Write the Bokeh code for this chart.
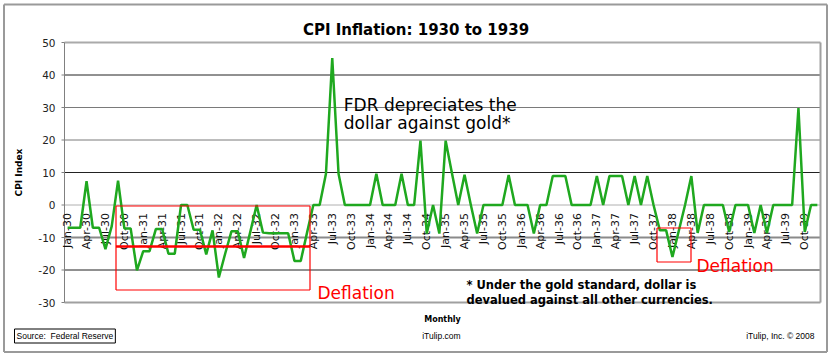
from math import pi
from bokeh.plotting import figure
from bokeh.models import Label
from bokeh.core.properties import value
from bokeh.embed import file_html
from bokeh.resources import INLINE

# ---------------- data ----------------
month_names = ["Jan", "Feb", "Mar", "Apr", "May", "Jun",
               "Jul", "Aug", "Sep", "Oct", "Nov", "Dec"]
years = list(range(1930, 1940))
months = [f"{m}-{y % 100:02d}" for y in years for m in month_names]

cpi = [
    -7, -7, -7, 7.3, -7, -7, -13.6, -6.5, 7.5, -7.2, -7.2, -20.1,          # 1930
    -14.2, -14.2, -7.4, -7.4, -15, -15, 0, 0, -7.6, -7.6, -15.2, -7.8,     # 1931
    -22.3, -15, -8.1, -8.1, -16.3, -8.2, 0, -8.5, -8.7, -8.7, -8.7, -8.7,  # 1932
    -17.2, -17.2, -8.5, 0, 0, 9.6, 45.2, 9.6, 0, 0, 0, 0,                  # 1933
    0, 9.6, 0, 0, 0, 9.6, 0, 0, 19.8, -8.8, 0, -8.8,                       # 1934
    19.8, 9.8, 0, 9.3, 0, -8.8, 0, 0, 0, 0, 9.2, 0,                        # 1935
    0, 0, -8.8, 0, 0, 8.9, 8.9, 8.9, 0, 0, 0, 0,                           # 1936
    8.9, 0, 8.9, 8.9, 8.9, 0, 8.9, 0, 8.9, 0, -7.8, -7.8,                  # 1937
    -16, -8, 0, 8.9, -8.6, 0, 0, 0, 0, -8.3, 0, 0,                         # 1938
    0, -8.6, 0, -8.6, 0, 0, 0, 0, 29.8, -8.3, 0, 0,                        # 1939
]
month_idx = list(range(len(cpi)))
tick_idx = month_idx[::3]
tick_labels = months[::3]
y_ticks = [-30, -20, -10, 0, 10, 20, 30, 40, 50]
y_tick_labels = [str(v) for v in y_ticks]

# ---------------- layout (pixels) ----------------
W, H = 831, 356
FL, FR, FT, FB = 64, 820, 42, 302          # plot-area edges in pixels
X_LO, X_HI = -0.5, len(cpi) - 0.5
Y_LO, Y_HI = -30, 50
SX = (FR - FL) / (X_HI - X_LO)
SY = (FB - FT) / (Y_HI - Y_LO)
XR = (X_LO - FL / SX, X_HI + (W - FR) / SX)
YR = (Y_LO - (H - FB) / SY, Y_HI + FT / SY)


def X(px):
    return XR[0] + px / SX


def Y(py):
    return YR[1] - py / SY


p = figure(width=W, height=H, x_range=XR, y_range=YR,
           x_axis_type=None, y_axis_type=None,
           output_backend="svg", toolbar_location=None,
           min_border=0)
p.background_fill_color = "white"
p.border_fill_color = "white"
p.outline_line_color = None

# horizontal gridlines
grid_styles = {40: ("#222222", 1), 30: ("#7a7a7a", 1), 20: ("#7a7a7a", 1),
               10: ("#222222", 1), 0: ("#b0b0b0", 1), -10: ("#8a8a8a", 2),
               -20: ("#222222", 1)}
for loc, (col, w) in grid_styles.items():
    p.segment(x0=[X_LO], y0=[loc], x1=[X_HI], y1=[loc], line_color=col, line_width=w)

# plot-area border
p.segment(x0=[X_LO], y0=[Y_HI], x1=[X_HI], y1=[Y_HI], line_color="#aaaaaa", line_width=2)
p.segment(x0=[X_LO], y0=[Y_LO], x1=[X_HI], y1=[Y_LO], line_color="#a0a0a0", line_width=2)
p.segment(x0=[X_HI], y0=[Y_LO], x1=[X_HI], y1=[Y_HI], line_color="#a0a0a0", line_width=2)
p.segment(x0=[X_LO], y0=[Y_LO], x1=[X_LO], y1=[Y_HI], line_color="#808080", line_width=1)

# y axis ticks and labels
p.segment(x0=[X_LO - 3 / SX] * len(y_ticks), y0=y_ticks,
          x1=[X_LO] * len(y_ticks), y1=y_ticks, line_color="#808080", line_width=1)
p.text(x=[X_LO] * len(y_ticks), y=y_ticks, text=y_tick_labels, x_offset=-9,
       text_align="right", text_baseline="middle",
       text_font=value("DejaVu Sans"), text_font_size=value("10.5px"),
       text_color="#222222")

# category labels inside the plot, hanging below zero
p.text(x=tick_idx, y=[0] * len(tick_idx), text=tick_labels, angle=pi / 2,
       text_align="right", text_baseline="middle", y_offset=8,
       text_font=value("DejaVu Sans"), text_font_size=value("11px"),
       text_color="#111111")

# the series
p.line(month_idx, cpi, line_color="#1fa81f", line_width=2.5)


# deflation boxes (annotation shapes), drawn edge by edge
def red_box(l, r, t, b):
    p.segment(x0=[X(l), X(l), X(l), X(r)], y0=[Y(t), Y(b), Y(t), Y(t)],
              x1=[X(r), X(r), X(l), X(r)], y1=[Y(t), Y(b), Y(b), Y(b)],
              line_color="#ff0000", line_width=1.2)


red_box(115.5, 309.5, 205.5, 289.5)
red_box(656.5, 690.5, 227.5, 261.5)
p.segment(x0=[X(115.5)], y0=[Y(246)], x1=[X(309.5)], y1=[Y(246)],
          line_color="#ff0000", line_width=2.5)

# outer chart border
p.segment(x0=[X(3.5), X(3.5), X(3.5), X(826.5)], y0=[Y(4), Y(351.5), Y(4), Y(4)],
          x1=[X(826.5), X(826.5), X(3.5), X(826.5)], y1=[Y(4), Y(351.5), Y(351.5), Y(351.5)],
          line_color="#9a9a9a", line_width=2)


def lab(px, py, text, size, bold=False, color="black", align="left",
        baseline="alphabetic", font="DejaVu Sans", angle=0, **kw):
    p.add_layout(Label(x=X(px), y=Y(py), text=text, text_font=font,
                       text_font_size=size,
                       text_font_style="bold" if bold else "normal",
                       text_color=color, text_align=align,
                       text_baseline=baseline, angle=angle, **kw))


lab(415.5, 29, "CPI Inflation: 1930 to 1939", "15px", bold=True, align="center")
lab(18, 172, "CPI Index", "9px", bold=True, align="center",
    baseline="middle", angle=pi / 2)
lab(343.3, 104, "FDR depreciates the", "17px")
lab(343.3, 122.7, "dollar against gold*", "17px")
lab(466, 284, "* Under the gold standard, dollar is", "11.5px", bold=True)
lab(466, 299.3, "devalued against all other currencies.", "11.5px", bold=True)
lab(317, 292.7, "Deflation", "17px", color="#ff0000")
lab(696, 265, "Deflation", "17px", color="#ff0000")
lab(442, 319, "Monthly", "8px", bold=True, align="center", baseline="middle")
lab(421.7, 335, "iTulip.com", "8.5px", font="Liberation Sans", baseline="middle")
lab(814, 335, "iTulip, Inc. \u00a9 2008", "8.5px", font="Liberation Sans",
    align="right", baseline="middle")
lab(14, 335.5, "Source:\u00a0 Federal Reserve", "8.5px", font="Liberation Sans",
    baseline="middle", border_line_color="black", border_line_width=1,
    background_fill_color="white", padding=2)

open("out.html", "w").write(file_html(p, INLINE))
